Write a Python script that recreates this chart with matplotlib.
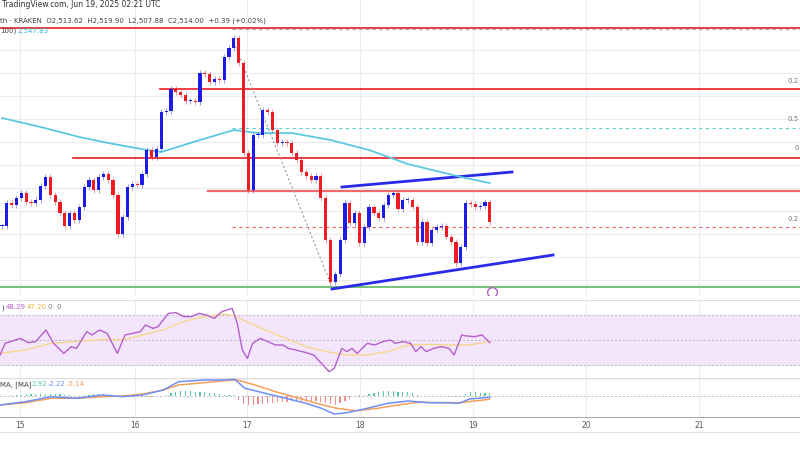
#!/usr/bin/env python3
"""ETH/USD 1h chart (TradingView style) with RSI and MACD panes."""

import numpy as np
import matplotlib

matplotlib.use("Agg")
from matplotlib import pyplot as plt

W, H = 800, 450
PX_PER_HOUR = 4.83  # candle spacing on screen

# hourly closes (price)
closes = [2494, 2517, 2515, 2522, 2527, 2518, 2517, 2520, 2534, 2543,
          2525, 2518, 2507, 2494, 2507, 2500, 2513, 2533, 2540, 2530,
          2543, 2546, 2540, 2525, 2486, 2503, 2533, 2536, 2535, 2546,
          2570, 2563, 2571, 2608, 2609, 2631, 2628, 2625, 2619, 2619,
          2618, 2647, 2646, 2638, 2641, 2640, 2663, 2672, 2682, 2657,
          2567, 2530, 2585, 2585, 2610, 2608, 2590, 2577, 2578, 2577,
          2567, 2560, 2548, 2544, 2540, 2544, 2522, 2480, 2438, 2446,
          2480, 2517, 2497, 2507, 2477, 2493, 2513, 2507, 2502, 2515,
          2525, 2527, 2511, 2520, 2520, 2513, 2478, 2498, 2477, 2490,
          2493, 2494, 2483, 2478, 2457, 2473, 2517, 2516, 2513, 2514,
          2518, 2498]
open_first = 2494

# 100h moving average (hour, price)
ma_hours = [0, 8, 16, 22, 30, 33, 41, 48, 53, 60, 68, 76, 84, 95, 101]
ma_vals = [2602, 2593, 2583, 2577, 2570, 2568, 2580, 2590, 2587, 2587, 2580, 2570, 2556, 2543, 2537]

# RSI (screen x of zoom / 9.47 -> hours), values
rsi_zx = [0, 10, 40, 55, 70, 90, 105, 125, 140, 150, 170, 180, 195, 210, 230, 245, 260, 275,
          285, 300, 310, 330, 345, 360, 375, 390, 405, 420, 435, 455, 465, 475, 485, 495, 510,
          525, 540, 555, 565, 580, 600, 615, 630, 645, 655, 670, 680, 690, 700, 720, 735, 750,
          765, 775, 790, 805, 815, 825, 835, 850, 865, 880, 890, 905, 915, 930, 945, 960]
rsi_vals = [38, 47.3, 51.3, 47.9, 48.7, 58, 47.3, 39.3, 44.7, 43.3, 56.7, 54, 58, 55.3, 39.3, 54,
            55.3, 56.7, 62, 59.3, 60.7, 71.3, 71.9, 68.7, 68.7, 71.3, 70, 67.3, 72.7, 75.3, 63.3,
            42, 35.3, 47.3, 51.3, 48.7, 46, 46, 43.3, 42, 39.9, 38, 31.3, 24.7, 27.3, 43.3, 40.7,
            43.3, 39.3, 47.3, 46, 48.7, 50, 47.3, 48.7, 47.3, 40.7, 44.7, 40.7, 43.3, 44.7, 43.3,
            38, 54, 53.2, 52.7, 54, 47.9]
rsima_zx = [0, 50, 100, 150, 200, 240, 280, 320, 360, 400, 440, 460, 490, 520, 560, 600, 640,
            680, 720, 760, 800, 840, 880, 920, 960]
rsima_vals = [39.3, 42, 47.3, 48.7, 50.5, 50, 54, 58, 64.7, 68.7, 70.8, 69.2, 63.3, 58, 51.3,
              44.7, 40.7, 38, 38, 40.7, 46, 46.5, 46, 46, 48.7]

# MACD
macd_zx = [0, 50, 100, 150, 200, 240, 280, 320, 350, 400, 440, 460, 480, 520, 560, 600, 630,
           655, 680, 720, 760, 800, 840, 880, 900, 920, 960]
macd_vals = [-9, -5.7, -0.7, -2.3, 1, -0.7, 1, 6, 14.3, 16, 16, 16.7, 7.7, 2.7, -2.3, -7.3,
             -12.3, -18, -16.7, -12.3, -7.3, -5, -6.7, -6.7, -7.3, -3, -1.3]
sig_zx = [0, 50, 100, 150, 200, 240, 280, 320, 350, 400, 440, 465, 500, 540, 580, 620, 660,
          700, 740, 780, 820, 860, 900, 930, 960]
sig_vals = [-9, -6.7, -2.3, -2.3, -0.7, 0, 2, 6, 11, 13.3, 15.3, 16, 11, 4.3, -1.3, -7.3,
            -12.3, -14.7, -12.3, -9, -6.3, -6.7, -6.7, -5, -3.3]

day_labels = ["15", "16", "17", "18", "19", "20", "21"]
day_px = [20, 135, 247, 360, 473, 586, 699]

BLUE = "#1c1ce6"
RED = "#ec1c22"
GRID = "#ececf0"


def px_to_hour(px):
    return (np.asarray(px, dtype=float) - 2) / PX_PER_HOUR


def zx_to_hour(zx):
    return px_to_hour(np.asarray(zx, dtype=float) / 1.96)


def add_pane(fig, top, bottom):
    ax = fig.add_axes([0, 1 - bottom / H, 1, (bottom - top) / H])
    ax.set_xlim(px_to_hour(0), px_to_hour(W))
    ax.axis("off")
    for px in day_px:
        ax.axvline(px_to_hour(px), color=GRID, lw=0.8, zorder=0)
    return ax


fig = plt.figure(figsize=(W / 100, H / 100), dpi=100)
fig.patch.set_facecolor("white")

# ---- price pane (pixel rows 0..295 -> 2720..2425)
ax = add_pane(fig, 0, 295)
ax.set_ylim(2425, 2720)
for y in range(2440, 2700, 23):
    ax.axhline(y, color=GRID, lw=0.8, zorder=0)

hx = px_to_hour
ax.plot([hx(0), hx(800)], [2692, 2692], color=RED, lw=1.2)
ax.plot([hx(160), hx(800)], [2631, 2631], color=RED, lw=1.2)
ax.plot([hx(73), hx(800)], [2562, 2562], color=RED, lw=1.2)
ax.plot([hx(208), hx(800)], [2529, 2529], color="#f06a6a", lw=1.6)
ax.plot([hx(232), hx(800)], [2691, 2691], color="#aaaaaa", lw=0.8, ls=(0, (3, 3)))
ax.plot([hx(232), hx(800)], [2592, 2592], color="#5fd0d0", lw=0.8, ls=(0, (3, 3)))
ax.plot([hx(232), hx(800)], [2493, 2493], color="#f06a6a", lw=0.8, ls=(0, (3, 3)))
ax.axhline(2433, color="#5cb85c", lw=1.2)
ax.plot([hx(232), hx(332)], [2682, 2433], color="#999999", lw=0.8, ls=(0, (2, 2)))
ax.plot([hx(342), hx(512)], [2533, 2548], color="#2a2ae8", lw=2)
ax.plot([hx(332), hx(553)], [2431, 2465], color="#2a2ae8", lw=2)
ax.plot(ma_hours, ma_vals, color="#5bc8e0", lw=1.3)
for txt, y in [("0.2", 2637), ("0.5", 2599), ("0", 2570), ("0.2", 2499)]:
    ax.text(hx(799), y, txt, fontsize=5, color="#777777", ha="right")

opens = [open_first] + closes[:-1]
for i, (o, c) in enumerate(zip(opens, closes)):
    col = BLUE if c >= o else RED
    lo, hi = min(o, c), max(o, c)
    ax.vlines(i, lo - 3, hi + 3, color=col, lw=0.6, alpha=0.5)
    ax.bar(i, max(hi - lo, 1.2), bottom=lo, width=0.66, color=col, zorder=3)

ax.text(hx(2), 2713, "TradingView.com, Jun 19, 2025 02:21 UTC", fontsize=5.5, color="#333333")
ax.text(hx(0), 2698, "th · KRAKEN  O2,513.62  H2,519.90  L2,507.88  C2,514.00  +0.39 (+0.02%)",
        fontsize=5, color="#444444")
ax.text(hx(0), 2687, "100)", fontsize=5, color="#444444")
ax.text(hx(18), 2687, "2,547.83", fontsize=5, color="#33b5cc")
ax.plot(hx(492), 2428, "o", ms=7, mfc="white", mec="#b05fc8", mew=1)

# ---- RSI pane (pixel rows 300..378; 315 -> 70, 365 -> 30)
ax2 = add_pane(fig, 300, 378)
ax2.set_ylim(50 - 38 / 1.25, 50 + 40 / 1.25)
ax2.axhspan(30, 70, color="#f3e6fc", zorder=0)
for lvl in (30, 50, 70):
    ax2.axhline(lvl, color="#bbbbbb", lw=0.7, ls=(0, (2, 2)))
ax2.axhline(50 + 40 / 1.25, color="#dddddd", lw=0.8)
ax2.plot(zx_to_hour(rsima_zx), rsima_vals, color="#f5d68a", lw=1)
ax2.plot(zx_to_hour(rsi_zx), rsi_vals, color="#b55fcc", lw=1)
ax2.text(hx(1), 74.5, ")", fontsize=5, color="#444444")
ax2.text(hx(6), 74.5, "48.29", fontsize=5, color="#b55fcc")
ax2.text(hx(27), 74.5, "47.20", fontsize=5, color="#e0b84a")
ax2.text(hx(48), 74.5, "0  0", fontsize=5, color="#777777")

# ---- MACD pane (pixel rows 378..418; zero at 396)
ax3 = add_pane(fig, 378, 418)
ax3.set_ylim(-22, 18)
ax3.axhline(18, color="#dddddd", lw=1)
ax3.axhline(0, color="#bbbbbb", lw=0.7, ls=(0, (2, 2)))
hours = np.arange(len(closes))
macd_h = np.interp(hours, zx_to_hour(macd_zx), macd_vals)
sig_h = np.interp(hours, zx_to_hour(sig_zx), sig_vals)
hist = (macd_h - sig_h) * 1.5
ax3.bar(hours, hist, width=0.25, color=np.where(hist >= 0, "#5cc6a8", "#f28b8b"))
ax3.plot(zx_to_hour(sig_zx), sig_vals, color="#f5a05a", lw=1.1)
ax3.plot(zx_to_hour(macd_zx), macd_vals, color="#6f8ff5", lw=1.1)
ax3.text(hx(0), 10, "MA, [MA]", fontsize=5, color="#444444")
ax3.text(hx(32), 10, "2.92", fontsize=5, color="#5cc6a8")
ax3.text(hx(48), 10, "-2.22", fontsize=5, color="#6f8ff5")
ax3.text(hx(67), 10, "-5.14", fontsize=5, color="#f5a05a")
ax3.axhline(-22, color="#999999", lw=1.2)

# ---- date axis
for lbl, px in zip(day_labels, day_px):
    fig.text(px / W, 1 - 425 / H, lbl, fontsize=5.5, color="#555555", ha="center", va="center")
fig.add_artist(plt.Line2D([0, 1], [1 - 432 / H] * 2, color="#e4e4e4", lw=0.8))

fig.savefig("out.png", dpi=100, facecolor="white")
